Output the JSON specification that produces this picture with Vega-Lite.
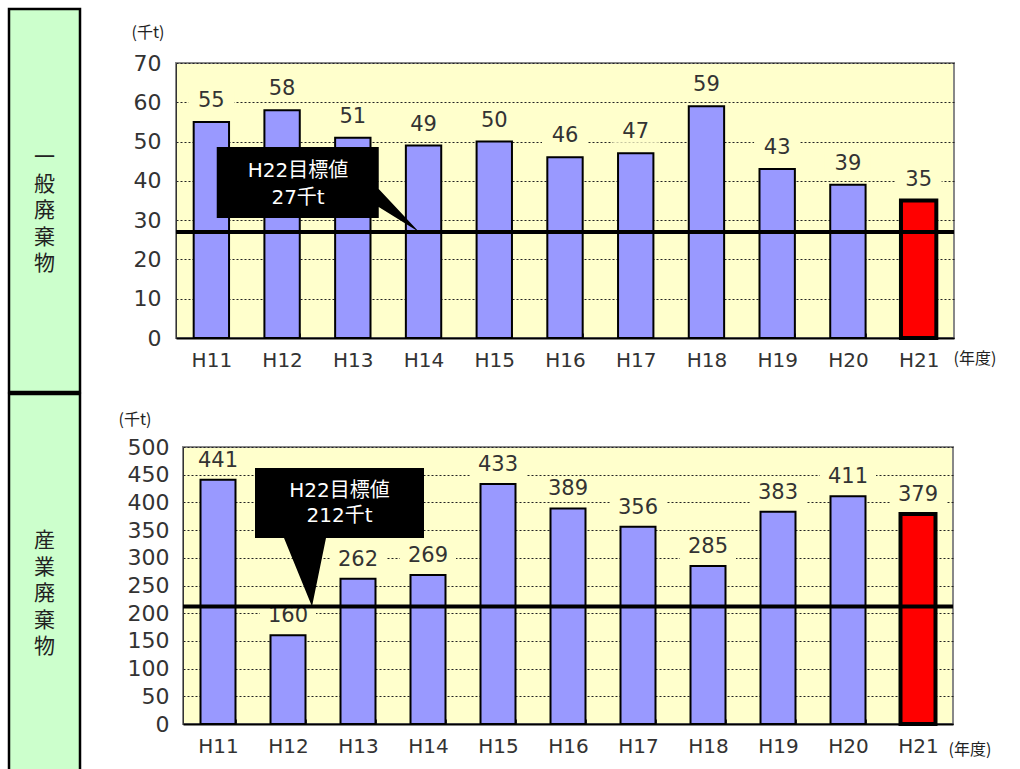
{
  "$schema": "https://vega.github.io/schema/vega-lite/v6.json",
  "background": "white",
  "padding": {"left": 7, "top": 7, "right": 0, "bottom": 0},
  "spacing": -4,
  "bounds": "full",
  "config": {
    "font": "DejaVu Sans, Noto Sans CJK JP",
    "axis": {"labelFont": "DejaVu Sans", "titleFont": "Noto Sans CJK JP"}
  },
  "vconcat": [
    {
      "spacing": 96,
      "bounds": "flush",
      "center": true,
      "hconcat": [
        {
          "width": 71,
          "height": 383,
          "view": {"fill": "#CCFFCC", "stroke": "#000000", "strokeWidth": 2.5},
          "data": {"values": [{"category": "一\n般\n廃\n棄\n物"}]},
          "mark": {"type": "text", "font": "Noto Sans CJK JP", "lineBreak": "\n", "fontSize": 21, "lineHeight": 26.5, "dy": -42.5, "color": "#222222", "baseline": "middle", "align": "center"},
          "encoding": {"text": {"field": "category", "type": "nominal"}}
        },
        {
          "width": 778,
          "height": 275,
          "view": {"fill": "#FFFFCC", "stroke": "#888888", "strokeWidth": 2},
          "layer": [
            {
              "data": {"name": "general", "values": [
                {"year": "H11", "value": 55}, {"year": "H12", "value": 58}, {"year": "H13", "value": 51},
                {"year": "H14", "value": 49}, {"year": "H15", "value": 50}, {"year": "H16", "value": 46},
                {"year": "H17", "value": 47}, {"year": "H18", "value": 59}, {"year": "H19", "value": 43},
                {"year": "H20", "value": 39}, {"year": "H21", "value": 35}
              ]},
              "layer": [
                {
                  "mark": {"type": "bar", "stroke": "#000000"},
                  "encoding": {
                    "x": {"field": "year", "type": "nominal", "sort": null,
                      "scale": {"domain": ["H11","H12","H13","H14","H15","H16","H17","H18","H19","H20","H21"], "paddingInner": 0.5, "paddingOuter": 0.25},
                      "axis": {"title": "(年度)", "titleAngle": 0, "titleAlign": "left", "titleBaseline": "middle", "titleX": 777, "titleY": 20, "titleFontSize": 16, "titleFontWeight": "normal", "titleColor": "#222222",
                        "labelAngle": 0, "labelFontSize": 20, "labelColor": "#333333", "labelPadding": 17,
                        "ticks": true, "tickBand": "extent", "tickSize": -5, "tickColor": "#333333", "domainColor": "#000000", "domainWidth": 2, "grid": false}},
                    "y": {"field": "value", "type": "quantitative", "scale": {"domain": [0, 70]},
                      "axis": {"title": "(千t)", "titleAngle": 0, "titleAlign": "left", "titleBaseline": "middle", "titleX": -45, "titleY": -31, "titleFontSize": 16, "titleFontWeight": "normal", "titleColor": "#222222",
                        "tickCount": 7, "labelFontSize": 22, "labelColor": "#333333", "labelPadding": 15, "ticks": false, "domainColor": "#333333",
                        "grid": true, "gridDash": [2, 2], "gridColor": "#222222", "gridWidth": 1}},
                    "fill": {"condition": {"test": "datum.year === 'H21'", "value": "#FF0000"}, "value": "#9999FF"},
                    "strokeWidth": {"condition": {"test": "datum.year === 'H21'", "value": 4}, "value": 2}
                  }
                },
                {
                  "mark": {"type": "point", "shape": "M-1,-0.45L1,-0.45L1,0.45L-1,0.45Z", "size": 2116, "filled": true, "fill": "#FFFFCC", "opacity": 1, "strokeWidth": 0, "yOffset": -21},
                  "encoding": {
                    "x": {"field": "year", "type": "nominal", "sort": null},
                    "y": {"field": "value", "type": "quantitative"}
                  }
                },
                {
                  "mark": {"type": "text", "dy": -21, "fontSize": 21, "color": "#333333", "baseline": "middle"},
                  "encoding": {
                    "x": {"field": "year", "type": "nominal", "sort": null},
                    "y": {"field": "value", "type": "quantitative"},
                    "text": {"field": "value", "type": "quantitative"}
                  }
                }
              ]
            },
            {
              "data": {"name": "generalTarget", "values": [{"target": 27, "aim": "H14", "label": "H22目標値\n27千t"}]},
              "layer": [
                {
                  "mark": {"type": "rule", "strokeWidth": 4, "color": "#000000"},
                  "encoding": {"y": {"field": "target", "type": "quantitative"}}
                },
                {
                  "mark": {"type": "point", "shape": "M-2.068,-0.85L-0.448,-0.85L-0.448,-0.43L-0.045,0L-0.448,-0.25L-0.448,-0.14L-2.068,-0.14Z", "size": 40000, "filled": true, "fill": "#000000", "opacity": 1, "strokeWidth": 0},
                  "encoding": {
                    "x": {"field": "aim", "type": "nominal", "sort": null},
                    "y": {"field": "target", "type": "quantitative"}
                  }
                },
                {
                  "mark": {"type": "text", "lineBreak": "\n", "fontSize": 20, "lineHeight": 27, "color": "#FFFFFF", "align": "center", "baseline": "middle", "dx": -125.5, "dy": -61},
                  "encoding": {
                    "x": {"field": "aim", "type": "nominal", "sort": null},
                    "y": {"field": "target", "type": "quantitative"},
                    "text": {"field": "label", "type": "nominal"}
                  }
                }
              ]
            }
          ]
        }
      ]
    },
    {
      "spacing": 103,
      "bounds": "flush",
      "center": true,
      "hconcat": [
        {
          "width": 71,
          "height": 383,
          "view": {"fill": "#CCFFCC", "stroke": "#000000", "strokeWidth": 2.5},
          "data": {"values": [{"category": "産\n業\n廃\n棄\n物"}]},
          "mark": {"type": "text", "font": "Noto Sans CJK JP", "lineBreak": "\n", "fontSize": 21, "lineHeight": 26.5, "dy": -44.5, "color": "#222222", "baseline": "middle", "align": "center"},
          "encoding": {"text": {"field": "category", "type": "nominal"}}
        },
        {
          "width": 770,
          "height": 277,
          "view": {"fill": "#FFFFCC", "stroke": "#888888", "strokeWidth": 2},
          "layer": [
            {
              "data": {"name": "industrial", "values": [
                {"year": "H11", "value": 441}, {"year": "H12", "value": 160}, {"year": "H13", "value": 262},
                {"year": "H14", "value": 269}, {"year": "H15", "value": 433}, {"year": "H16", "value": 389},
                {"year": "H17", "value": 356}, {"year": "H18", "value": 285}, {"year": "H19", "value": 383},
                {"year": "H20", "value": 411}, {"year": "H21", "value": 379}
              ]},
              "layer": [
                {
                  "mark": {"type": "bar", "stroke": "#000000"},
                  "encoding": {
                    "x": {"field": "year", "type": "nominal", "sort": null,
                      "scale": {"domain": ["H11","H12","H13","H14","H15","H16","H17","H18","H19","H20","H21"], "paddingInner": 0.5, "paddingOuter": 0.25},
                      "axis": {"title": "(年度)", "titleAngle": 0, "titleAlign": "left", "titleBaseline": "middle", "titleX": 765, "titleY": 25, "titleFontSize": 16, "titleFontWeight": "normal", "titleColor": "#222222",
                        "labelAngle": 0, "labelFontSize": 20, "labelColor": "#333333", "labelPadding": 17,
                        "ticks": true, "tickBand": "extent", "tickSize": -5, "tickColor": "#333333", "domainColor": "#000000", "domainWidth": 2, "grid": false}},
                    "y": {"field": "value", "type": "quantitative", "scale": {"domain": [0, 500]},
                      "axis": {"title": "(千t)", "titleAngle": 0, "titleAlign": "left", "titleBaseline": "middle", "titleX": -65, "titleY": -28, "titleFontSize": 16, "titleFontWeight": "normal", "titleColor": "#222222",
                        "tickCount": 10, "labelFontSize": 22, "labelColor": "#333333", "labelPadding": 14, "ticks": false, "domainColor": "#333333",
                        "grid": true, "gridDash": [2, 2], "gridColor": "#222222", "gridWidth": 1}},
                    "fill": {"condition": {"test": "datum.year === 'H21'", "value": "#FF0000"}, "value": "#9999FF"},
                    "strokeWidth": {"condition": {"test": "datum.year === 'H21'", "value": 4}, "value": 2}
                  }
                },
                {
                  "mark": {"type": "point", "shape": "M-1,-0.45L1,-0.45L1,0.45L-1,0.45Z", "size": 3136, "filled": true, "fill": "#FFFFCC", "opacity": 1, "strokeWidth": 0, "yOffset": -19},
                  "encoding": {
                    "x": {"field": "year", "type": "nominal", "sort": null},
                    "y": {"field": "value", "type": "quantitative"}
                  }
                },
                {
                  "mark": {"type": "text", "dy": -19, "fontSize": 21, "color": "#333333", "baseline": "middle"},
                  "encoding": {
                    "x": {"field": "year", "type": "nominal", "sort": null},
                    "y": {"field": "value", "type": "quantitative"},
                    "text": {"field": "value", "type": "quantitative"}
                  }
                }
              ]
            },
            {
              "data": {"name": "industrialTarget", "values": [{"target": 212, "aim": "H12", "label": "H22目標値\n212千t"}]},
              "layer": [
                {
                  "mark": {"type": "rule", "strokeWidth": 4, "color": "#000000"},
                  "encoding": {"y": {"field": "target", "type": "quantitative"}}
                },
                {
                  "mark": {"type": "point", "shape": "M-0.33,-1.385L1.36,-1.385L1.36,-0.685L0.38,-0.685L0.24,0L-0.04,-0.685L-0.33,-0.685Z", "size": 40000, "filled": true, "fill": "#000000", "opacity": 1, "strokeWidth": 0},
                  "encoding": {
                    "x": {"field": "aim", "type": "nominal", "sort": null},
                    "y": {"field": "target", "type": "quantitative"}
                  }
                },
                {
                  "mark": {"type": "text", "lineBreak": "\n", "fontSize": 20, "lineHeight": 25, "color": "#FFFFFF", "align": "center", "baseline": "middle", "dx": 51.5, "dy": -115.5},
                  "encoding": {
                    "x": {"field": "aim", "type": "nominal", "sort": null},
                    "y": {"field": "target", "type": "quantitative"},
                    "text": {"field": "label", "type": "nominal"}
                  }
                }
              ]
            }
          ]
        }
      ]
    }
  ]
}
